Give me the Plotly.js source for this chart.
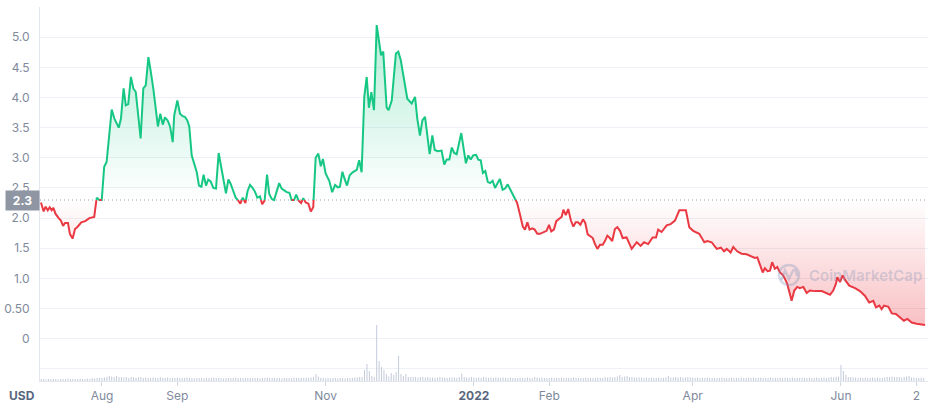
<!DOCTYPE html>
<html>
<head>
<meta charset="utf-8">
<script src="https://cdn.plot.ly/plotly-3.0.1.min.js"></script>
<style>html,body{margin:0;padding:0;background:#fff;}#chart{width:929px;height:405px;}</style>
</head>
<body>
<div id="chart"></div>
<script>
// ---- DATA ----
// time of each price point, in days since 1 Aug 2021
const dayOffsets = [
-25.1,-24.0,-23.2,-22.3,-21.5,-20.7,-20.0,-19.1,-17.8,-16.9,-16.0,-15.2,-14.0,-13.2,-12.1,-11.1,-10.2,-8.5,-6.9,-5.2,-3.2,-2.6,-2.1,-1.1,-0.1,
0.9,1.9,4.0,5.1,6.9,7.8,8.9,9.8,10.8,11.9,12.9,13.9,15.9,17.0,18.0,19.1,20.0,21.1,23.0,24.0,25.0,25.9,27.0,28.0,29.1,29.7,
31.0,32.1,33.2,34.1,35.1,35.9,36.9,38.0,39.0,39.9,40.9,41.8,42.8,43.7,44.7,45.8,46.9,48.0,49.1,51.0,52.0,52.9,54.0,55.0,56.1,56.9,57.9,59.0,59.9,
60.9,62.0,62.9,63.9,65.0,65.9,66.9,67.9,68.8,69.8,70.8,71.9,72.9,73.9,75.0,76.0,77.1,78.0,79.0,79.9,80.9,81.9,82.8,83.8,84.9,85.9,86.9,87.9,
89.0,90.0,90.9,92.0,93.5,94.7,95.9,97.0,97.9,98.9,99.8,100.8,101.9,103.1,104.8,105.8,106.8,107.9,108.9,109.8,110.8,111.9,113.0,113.9,114.8,115.7,
117.1,117.9,119.2,120.9,121.9,122.9,124.2,125.6,127.4,128.8,129.7,130.8,131.8,132.9,134.8,135.9,136.9,138.1,139.7,140.8,141.8,142.9,143.9,144.9,145.9,
147.8,148.9,149.7,150.7,151.7,152.7,153.9,154.8,155.8,156.7,157.7,158.7,159.6,160.7,161.7,162.6,163.7,164.8,165.8,166.9,168.1,169.9,170.8,171.9,
173.1,174.0,175.0,175.9,177.0,178.0,179.1,180.2,181.9,182.9,183.9,184.8,185.9,186.9,188.1,189.1,189.8,190.8,191.8,192.9,193.9,194.9,195.8,196.8,
197.9,198.8,199.8,200.9,201.9,202.8,203.8,204.9,206.0,206.9,207.9,208.9,209.9,211.0,212.0,213.1,
214.2,215.8,217.9,220.0,221.6,223.0,224.7,226.5,227.9,228.8,230.2,232.3,233.9,235.7,237.5,239.1,240.2,241.6,243.2,245.7,247.8,249.0,250.8,252.9,
254.6,255.9,257.0,258.6,259.7,261.3,263.1,265.2,267.3,268.6,269.6,270.7,271.8,272.7,273.8,274.8,275.7,276.8,277.8,278.9,280.0,281.0,281.9,283.7,
284.8,286.0,287.1,288.5,289.9,291.2,293.3,296.1,298.1,299.5,300.8,301.9,302.5,303.6,304.7,305.6,307.4,309.8,311.8,313.9,315.6,317.3,318.4,319.8,
320.7,321.7,323.5,324.9,326.6,328.3,329.9,331.3,333.1,335.1,337.2,338.6
];
// price in USD
const prices = [
2.26,2.11,2.19,2.13,2.18,2.13,2.17,2.07,2.00,1.96,1.87,1.92,1.92,1.74,1.66,1.82,1.85,1.93,1.95,2.00,2.02,2.24,2.34,2.30,2.30,
2.85,2.93,3.80,3.65,3.50,3.65,4.15,3.87,3.89,4.34,4.15,4.09,3.32,4.15,4.20,4.67,4.45,4.15,3.52,3.73,3.55,3.67,3.62,3.52,3.26,3.70,
3.95,3.73,3.69,3.68,3.62,3.52,3.04,2.87,2.76,2.54,2.52,2.72,2.54,2.64,2.61,2.50,2.49,3.08,2.82,2.41,2.64,2.57,2.45,2.34,2.29,2.24,2.34,2.25,2.45,
2.55,2.50,2.44,2.34,2.36,2.23,2.29,2.72,2.40,2.32,2.30,2.46,2.58,2.49,2.46,2.43,2.42,2.30,2.30,2.39,2.29,2.25,2.33,2.26,2.24,2.11,2.18,3.00,
3.07,2.86,2.98,2.74,2.62,2.43,2.55,2.51,2.52,2.77,2.65,2.54,2.71,2.76,2.80,2.96,2.76,4.01,4.34,3.83,4.09,3.79,5.20,4.94,4.70,4.76,
3.83,3.79,3.95,4.73,4.76,4.62,4.34,3.98,3.90,4.01,3.65,3.37,3.62,3.68,3.06,3.37,3.13,3.11,3.12,2.89,2.97,2.97,3.17,3.08,3.06,
3.41,3.12,2.91,3.04,2.97,3.04,3.05,2.97,2.96,2.75,2.78,2.60,2.58,2.62,2.50,2.57,2.65,2.47,2.49,2.56,2.46,2.32,2.25,2.07,
1.86,1.81,1.93,1.81,1.83,1.81,1.74,1.74,1.77,1.79,1.89,1.78,1.81,1.95,1.99,2.02,2.14,2.05,2.15,1.96,1.86,1.93,1.93,1.89,
1.98,1.92,1.73,1.69,1.67,1.57,1.49,1.56,1.56,1.62,1.71,1.67,1.62,1.82,1.85,1.79,
1.67,1.68,1.49,1.60,1.54,1.60,1.57,1.68,1.68,1.81,1.77,1.88,1.90,1.96,2.13,2.13,2.13,1.85,1.79,1.74,1.60,1.62,1.60,1.49,
1.51,1.45,1.49,1.43,1.52,1.45,1.41,1.40,1.36,1.34,1.35,1.24,1.10,1.17,1.12,1.13,1.27,1.16,1.19,1.10,1.06,0.99,0.91,0.63,
0.80,0.86,0.84,0.86,0.76,0.80,0.79,0.79,0.75,0.73,0.80,0.91,1.02,0.94,1.05,0.98,0.88,0.84,0.79,0.71,0.60,0.63,0.52,0.55,
0.49,0.55,0.53,0.42,0.41,0.35,0.30,0.33,0.27,0.25,0.24,0.23
];
// daily trading volume (relative units), first bar on volumeStartDay
const volumeStartDay = -25;
const volumes = [
// Jul 7-31
2,2,1.5,2,2,2,2,1.5,2,2,2,2.5,2,2,2,2,2.5,2,2,2.5,2,3,2.5,3,3,
// Aug
3,3.5,4,5,4.5,4,5,4,4,3.5,4,3,4,3.5,3,3.5,4,3,3.5,3,3,3.5,3,3,4,3,3,3.5,3,3,3,
// Sep
3.5,3,3,3,3.5,3,3,2.5,3,3,3,2.5,3,3,3,3.5,3,3,3,2.5,3,3,3,3,3.5,3,3,3,3,3,
// Oct
3,3,3,3,2.5,3,3,3.5,3,3,3,3,3,2.5,3,3,3,3,3.5,3,3,3,3,3.5,3,3.5,4,7,4.5,3,3,
// Nov
2.5,3,2.5,3,3,2.5,3,3,2.5,3,3,3,3.5,3.5,4,4,11,17,10,5,4,56,20,14,11,7,4.5,8,6,9,
// Dec
25,7,5,7,4,4,4,4,3.5,4,4,3.5,4,3.5,3.5,3,3.5,4,3.5,3.5,3,3.5,3.5,3.5,3,4,7.5,4,3.5,3.5,4,
// Jan
3.5,3,3.5,3,4,3.5,3,3.5,3,3.5,3.5,3,3.5,3,3,3.5,3,3,3,3.5,3,3,3.5,3,3,4,3.5,3,3.5,3,3,
// Feb
3,3.5,3,3,3,3.5,3,3,3,3,3.5,3,3,3,3,3.5,3,3,3,3,3.5,3,3,4,3.5,4,3.5,4,
// Mar
4.5,6,4,4.5,5,4,4,3.5,3.5,3.5,3.5,3,3.5,3,3.5,3,3,3.5,3,3,3.5,5,3.5,3.5,4,3.5,4,3.5,3.5,4,3.5,
// Apr
3.5,3,3.5,3,3,3,3.5,3,3,3,3,3,3.5,3,3,3,3.5,3,3,3,3.5,3,3,3.5,3,3.5,3,3,3.5,3,
// May
3,3,3.5,3,3,3,3.5,3,3.5,3,3,3.5,3,3,3,3.5,3,3,3.5,3,3,3.5,3,3,3.5,3,3.5,4,3.5,4,4.5,
// Jun
16,10,6,4,4,3.5,3.5,3,3.5,3,3.5,3,3,3.5,3,3.5,3,3,3.5,4,4,4.5,4,4,4,3.5,4,4.5,5,3.5,
// Jul
3.5,3,3,3.5,3
];
const baseline = 2.3;
const tickDates = ['2021-08-01','2021-09-01','2021-11-01','2022-01-01','2022-02-01','2022-04-01','2022-06-01','2022-07-02'];
const tickLabels = ['Aug','Sep','Nov','<span style="color:#58667e"><b>2022</b></span>','Feb','Apr','Jun','2'];
const yTickVals = [-0.5,0,0.5,1,1.5,2,2.5,3,3.5,4,4.5,5];
const yTickLabels = ['','0','0.50','1.0','1.5','2.0','2.5','3.0','3.5','4.0','4.5','5.0'];

// ---- BUILD ----
const T0 = Date.UTC(2021,7,1);
const toDate = d => new Date(T0 + d*86400000).toISOString();
const GREEN = '#16c784', RED = '#ea3943';

// insert baseline crossings so the colour changes exactly at 2.3
const X = [], Y = [];
for (let i = 0; i < prices.length; i++) {
  X.push(dayOffsets[i]); Y.push(prices[i]);
  if (i < prices.length - 1) {
    const a = prices[i] - baseline, b = prices[i+1] - baseline;
    if (a * b < 0) {
      const tc = dayOffsets[i] + (baseline - prices[i]) / (prices[i+1] - prices[i]) * (dayOffsets[i+1] - dayOffsets[i]);
      X.push(tc); Y.push(baseline);
    }
  }
}
const XD = X.map(toDate);
const baseY = XD.map(() => baseline);
const upY = Y.map(v => Math.max(v, baseline));
const dnY = Y.map(v => Math.min(v, baseline));
const greenY = Y.map(v => v >= baseline ? v : null);
const redY = Y.map(v => v <= baseline ? v : null);

const volX = volumes.map((_, i) => toDate(volumeStartDay + i));

const traces = [
  {x: XD, y: baseY, mode: 'lines', line: {width: 0}, hoverinfo: 'skip'},
  {x: XD, y: upY, mode: 'lines', line: {width: 0}, fill: 'tonexty', fillcolor: 'rgba(22,199,132,0.15)',
   fillgradient: {type: 'vertical', colorscale: [[0, 'rgba(22,199,132,0)'], [1, 'rgba(22,199,132,0.32)']], start: baseline, stop: 5.2},
   hoverinfo: 'skip'},
  {x: XD, y: baseY, mode: 'lines', line: {width: 0}, hoverinfo: 'skip'},
  {x: XD, y: dnY, mode: 'lines', line: {width: 0}, fill: 'tonexty', fillcolor: 'rgba(234,57,67,0.12)',
   fillgradient: {type: 'vertical', colorscale: [[0, 'rgba(234,57,67,0.32)'], [1, 'rgba(234,57,67,0)']], start: 0.2, stop: baseline},
   hoverinfo: 'skip'},
  {x: volX, y: volumes, type: 'bar', yaxis: 'y2', marker: {color: '#c5ccdb', line: {width: 0}},
   width: 0.42 * 86400000, hoverinfo: 'skip'},
  {x: XD, y: greenY, mode: 'lines', line: {color: GREEN, width: 2}, connectgaps: false, hoverinfo: 'skip'},
  {x: XD, y: redY, mode: 'lines', line: {color: RED, width: 2}, connectgaps: false, hoverinfo: 'skip'}
];

// pixel helpers for decorations (plot area: x 40..928, y 7..381)
const PL = 40, PW = 888, PT = 7, PH = 374;
const px = x => (x - PL) / PW;
const py = y => (PT + PH - y) / PH;
const wm = 'rgba(125,145,185,0.33)';
const logoPath = 'M ' + px(781.5) + ' ' + py(280) + ' L ' + px(785) + ' ' + py(270.5) + ' L ' + px(789) + ' ' + py(279) +
  ' L ' + px(793) + ' ' + py(270.5) + ' Q ' + px(796) + ' ' + py(268) + ' ' + px(797) + ' ' + py(276);

const layout = {
  width: 929, height: 405,
  margin: {l: PL, r: 929 - PL - PW, t: PT, b: 405 - PT - PH},
  paper_bgcolor: '#ffffff', plot_bgcolor: '#ffffff',
  showlegend: false,
  hovermode: false,
  font: {family: 'Inter, "Open Sans", sans-serif', color: '#808a9d', size: 12},
  xaxis: {
    type: 'date',
    range: [toDate(-25.5), toDate(339.8)],
    tickmode: 'array', tickvals: tickDates, ticktext: tickLabels,
    ticks: 'outside', ticklen: 4, tickcolor: '#cfd6e4', tickwidth: 1,
    showgrid: false, zeroline: false,
    showline: true, linecolor: '#e3e7ee', linewidth: 1,
    tickfont: {family: 'Inter, sans-serif', size: 12, color: '#808a9d'},
    fixedrange: true
  },
  yaxis: {
    range: [-0.7, 5.5],
    tickmode: 'array', tickvals: yTickVals, ticktext: yTickLabels,
    showgrid: true, gridcolor: '#eef1f5', gridwidth: 1,
    zeroline: false, showline: true, linecolor: '#e3e7ee', linewidth: 1,
    ticks: '', ticklabelstandoff: 7,
    tickfont: {family: 'Inter, sans-serif', size: 12, color: '#808a9d'},
    fixedrange: true
  },
  yaxis2: {overlaying: 'y', range: [0, PH], visible: false, fixedrange: true},
  shapes: [
    {type: 'line', xref: 'paper', yref: 'y', x0: 0, x1: 1, y0: baseline, y1: baseline,
     line: {color: '#9aa1ad', width: 1, dash: '1px,3px'}, layer: 'below'},
    {type: 'circle', xref: 'paper', yref: 'paper', x0: px(779), x1: px(799), y0: py(285), y1: py(265),
     line: {color: wm, width: 2.5}},
    {type: 'path', xref: 'paper', yref: 'paper', path: logoPath, line: {color: wm, width: 2.5}}
  ],
  annotations: [
    {xref: 'paper', yref: 'y', x: 0, y: baseline, xanchor: 'right', yanchor: 'middle',
     text: '<b>2.3</b>', showarrow: false, width: 33, height: 19, bgcolor: '#8f96a3', align: 'center',
     font: {family: 'Inter, sans-serif', size: 12, color: '#ffffff'}, borderpad: 0},
    {xref: 'paper', yref: 'paper', x: px(7), y: py(395), xanchor: 'left', yanchor: 'middle',
     text: '<b>USD</b>', showarrow: false, font: {family: 'Inter, sans-serif', size: 12, color: '#58667e'}},
    {xref: 'paper', yref: 'paper', x: px(807), y: py(275), xanchor: 'left', yanchor: 'middle',
     text: 'CoinMarketCap', showarrow: false, font: {family: 'Inter, sans-serif', size: 15, weight: 600, color: wm}}
  ]
};

if (dayOffsets.length !== prices.length) console.error('length mismatch', dayOffsets.length, prices.length);
Plotly.newPlot('chart', traces, layout, {displayModeBar: false, staticPlot: true});
</script>
</body>
</html>
